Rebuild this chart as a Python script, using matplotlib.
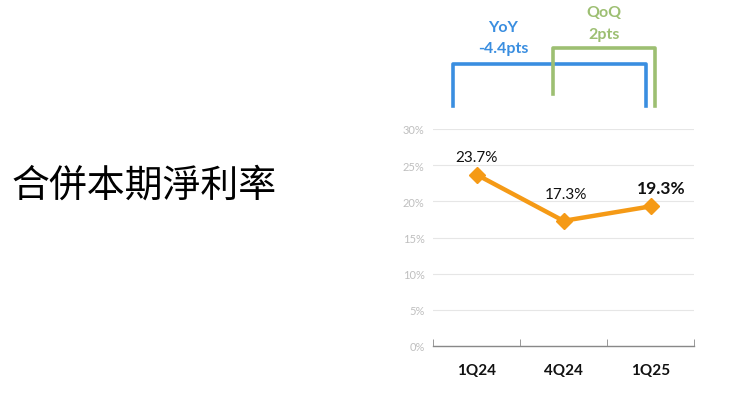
import matplotlib
matplotlib.use("Agg")
import matplotlib.pyplot as plt
from matplotlib.lines import Line2D

categories = ["1Q24", "4Q24", "1Q25"]
values = [23.7, 17.3, 19.3]
labels = ["23.7%", "17.3%", "19.3%"]
yticks = [0, 5, 10, 15, 20, 25, 30]
title = "合併本期淨利率"

plt.rcParams['font.family'] = ['Lato', 'DejaVu Sans']

W, H = 740, 414
fig = plt.figure(figsize=(W / 100, H / 100), dpi=100)
fig.patch.set_facecolor("white")

def fx(px):
    return px / W

def fy(py):
    return 1 - py / H

ax = fig.add_axes([fx(433), fy(347), fx(694) - fx(433), fy(130) - fy(347)])
x = list(range(len(categories)))
orange = "#F59A16"
ax.plot(x, values, color=orange, lw=3.2, marker="D", ms=8, mec=orange, mfc=orange, zorder=3)
ax.set_xlim(-0.5, len(categories) - 0.5)
ax.set_ylim(0, 30)
ax.set_yticks(yticks)
ax.set_yticklabels([f"{t}%" for t in yticks], color="#BFBFBF", fontsize=8)
ax.set_xticks(x)
ax.set_xticklabels(categories, fontsize=11, fontweight="bold", color="#111111")
ax.set_xticks([-0.5, 0.5, 1.5, 2.5], minor=True)
ax.tick_params(axis="x", which="major", length=0, pad=12)
ax.tick_params(axis="x", which="minor", length=5, color="#888888", direction="in")
ax.tick_params(axis="y", length=0, pad=6)
ax.grid(axis="y", color="#E6E6E6", lw=0.8)
ax.set_axisbelow(True)
for s in ["top", "right", "left"]:
    ax.spines[s].set_visible(False)
ax.spines["bottom"].set_color("#888888")
ax.spines["bottom"].set_linewidth(1.0)

offsets = [(0, 13), (2, 19.5), (8, 13)]
for i, (v, lab) in enumerate(zip(values, labels)):
    bold = i == len(values) - 1
    ax.annotate(lab, (i, v), xytext=offsets[i], textcoords="offset points",
                ha="center", va="center", fontsize=12.5 if bold else 11,
                fontweight="bold" if bold else "normal", color="#111111")

# Title
fig.text(fx(12), fy(186), title, fontsize=27.3, family=['Noto Sans CJK TC', 'DejaVu Sans'],
         ha="left", va="center", color="#000000")

# Brackets
blue = "#3A8EE0"
green = "#9DBF72"
fig.add_artist(Line2D([fx(453), fx(453), fx(646), fx(646)], [fy(107), fy(65), fy(65), fy(107)],
                      color=blue, lw=2.6, transform=fig.transFigure))
fig.add_artist(Line2D([fx(553), fx(553), fx(655), fx(655)], [fy(95), fy(49), fy(49), fy(107)],
                      color=green, lw=2.6, transform=fig.transFigure))
fs = 11.5
fig.text(fx(503), fy(28), "YoY", color=blue, fontsize=fs, fontweight="bold", ha="center", va="center")
fig.text(fx(503), fy(49), "-4.4pts", color=blue, fontsize=fs, fontweight="bold", ha="center", va="center")
fig.text(fx(604), fy(13), "QoQ", color=green, fontsize=fs, fontweight="bold", ha="center", va="center")
fig.text(fx(604), fy(35), "2pts", color=green, fontsize=fs, fontweight="bold", ha="center", va="center")

fig.savefig("out.png", dpi=100)
